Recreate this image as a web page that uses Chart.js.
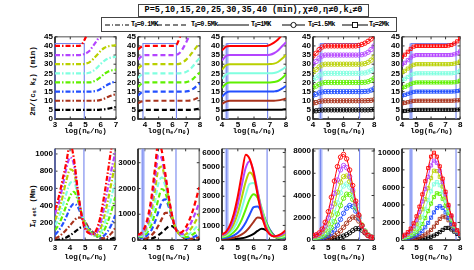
<!DOCTYPE html>
<html>
<head>
<meta charset="utf-8">
<script src="https://cdn.jsdelivr.net/npm/chart.js@4.4.1/dist/chart.umd.min.js"></script>
<style>
body{margin:0;width:474px;height:270px;background:#fff;position:relative;overflow:hidden}
.pan{position:absolute}
.box{position:absolute;box-sizing:border-box;border:1px solid #444;background:#fff;font-family:'Liberation Mono',monospace;font-weight:bold;color:#000;white-space:nowrap}
.box sub{font-size:70%;vertical-align:-1px;line-height:0}
.leg{position:absolute;top:0;height:13px;line-height:13px;font-size:6.8px;letter-spacing:-0.6px}
.yt{position:absolute;transform:translate(-50%,-50%) rotate(-90deg);white-space:nowrap;font:bold 7.5px 'Liberation Mono',monospace;color:#000}
.xt{position:absolute;transform:translate(-50%,-50%);white-space:nowrap;font:bold 7.5px 'Liberation Mono',monospace;color:#000}
.yt sub,.xt sub{font-size:70%;vertical-align:-1px;line-height:0}
</style>
</head>
<body>
<div class="box" style="left:138px;top:4px;width:231px;height:13px;font-size:8.5px;line-height:11px;text-align:center">P=5,10,15,20,25,30,35,40 (min),χ≠0,η≠0,k<sub>⊥</sub>≠0</div>
<div class="box" id="legend" style="left:101px;top:17px;width:296px;height:15px">
  <svg style="position:absolute;left:3px;top:6px" width="24" height="2"><line x1="0" y1="1" x2="24" y2="1" stroke="#000" stroke-width="1" stroke-dasharray="5,2,1,2"/></svg>
  <div class="leg" style="left:29px">T<sub>0</sub>=0.1MK</div>
  <svg style="position:absolute;left:55px;top:6px" width="31" height="2"><line x1="0" y1="1" x2="31" y2="1" stroke="#000" stroke-width="1" stroke-dasharray="5,3"/></svg>
  <div class="leg" style="left:89px">T<sub>0</sub>=0.5Mk</div>
  <svg style="position:absolute;left:116px;top:6px" width="31" height="2"><line x1="0" y1="1" x2="31" y2="1" stroke="#000" stroke-width="1"/></svg>
  <div class="leg" style="left:149px">T<sub>0</sub>=1MK</div>
  <svg style="position:absolute;left:180px;top:3px" width="23" height="8"><line x1="0" y1="4" x2="23" y2="4" stroke="#000" stroke-width="1"/><circle cx="11.5" cy="4" r="2.6" fill="#fff" stroke="#000" stroke-width="0.9"/></svg>
  <div class="leg" style="left:206px">T<sub>0</sub>=1.5Mk</div>
  <svg style="position:absolute;left:240px;top:3px" width="26" height="8"><line x1="0" y1="4" x2="26" y2="4" stroke="#000" stroke-width="1"/><rect x="10.5" y="1.5" width="5" height="5" fill="#fff" stroke="#000" stroke-width="0.9"/></svg>
  <div class="leg" style="left:267px">T<sub>0</sub>=2Mk</div>
</div>
<div class="yt" style="left:33px;top:81px">2π/(c<sub>s</sub> k<sub>z</sub>) (min)</div>
<div class="yt" style="left:33px;top:206px">I<sub>d est</sub> (Mm)</div>
<script>
// periods P = 5..40 min, one colour each
const periods = [5, 10, 15, 20, 25, 30, 35, 40];
const colors = ['#000000', '#a8321c', '#2350ff', '#5ff000', '#80ffe0', '#b9d000', '#b444ff', '#ff0000'];

// log(ne/n0) grids
const xA = [3, 3.25, 3.5, 3.75, 4, 4.25, 4.5, 4.75, 5, 5.25, 5.5, 5.75, 6, 6.25, 6.5, 6.75, 7];
const xB = [3.5, 3.75, 4, 4.25, 4.5, 4.75, 5, 5.25, 5.5, 5.75, 6, 6.25, 6.5, 6.75, 7, 7.25, 7.5, 7.75, 8];
const xC = [4, 4.25, 4.5, 4.75, 5, 5.25, 5.5, 5.75, 6, 6.25, 6.5, 6.75, 7, 7.25, 7.5, 7.75, 8];
const xD = [4, 4.2, 4.4, 4.6, 4.8, 5, 5.2, 5.4, 5.6, 5.8, 6, 6.2, 6.4, 6.6, 6.8, 7, 7.2, 7.4, 7.6, 7.8, 8];

// tick labels
const xTicksA = [3, 4, 5, 6, 7];
const xTicksB = [4, 5, 6, 7, 8];
const perTicks = [0, 5, 10, 15, 20, 25, 30, 35, 40, 45];
const lenTicks = [
  [0, 200, 400, 600, 800, 1000],
  [0, 1000, 2000, 3000],
  [0, 1000, 2000, 3000, 4000, 5000, 6000],
  [0, 2000, 4000, 6000, 8000],
  [0, 2000, 4000, 6000, 8000, 10000]
];

// top row: 2pi/(cs kz) in min, T0 = 0.1, 0.5, 1, 1.5, 2 MK
const perA = [
  [5,5,5,5,5,5,5,5,5,5,5,5,5.1,5.3,5.7,6.1,6.5],
  [10,10,10,10,10,10,10,10,10,10,10,10.1,10.5,11.2,12.2,13,13.6],
  [15,15,15,15,15,15,15,15,15,15,15.1,15.5,16.5,17.7,19,20,20.5],
  [20,20,20,20,20,20,20,20,20,20,20.5,21.5,23,24.8,26,26.7,27],
  [25,25,25,25,25,25,25,25,25,25.3,26.3,28,30.2,32,33.2,33.8,34.1],
  [30,30,30,30,30,30,30,30,30.3,31,32.8,35,37.3,39,39.8,40.2,40.4],
  [35,35,35,35,35,35,35,35.2,35.8,37.2,40,43,46.5,50,54,58,62],
  [40,40,40,40,40,40,40,40.8,44.5,50,56,62,68,74,80,86,92]
];
const perB = [
  [4.3,4.8,5,5,5,5,5,5,5,5,5,5,5,5,5,5,5.1,5.4,6],
  [8.6,9.6,10,10,10,10,10,10,10,10,10,10,10,10,10,10.1,10.5,11.3,12.5],
  [12.8,14.5,15,15,15,15,15,15,15,15,15,15,15,15,15.1,15.5,16.5,18,19.5],
  [17.5,19.4,20,20,20,20,20,20,20,20,20,20,20,20,20.2,20.8,22,23.8,25.5],
  [22.5,24.3,25,25,25,25,25,25,25,25,25,25,25,25.2,25.8,27,29,31.5,33.5],
  [27.5,29.3,30,30,30,30,30,30,30,30,30,30,30.2,31,32.5,34.5,37,39.5,41.5],
  [32.5,34.3,35,35,35,35,35,35,35,35,35,35.1,36,38.5,42,46,50,54,58],
  [38,39.6,40,40,40,40,40,40,40,40,40,40.3,44,50,57,64,71,78,85]
];
const perC = [
  [4.3,4.8,5,5,5,5,5,5,5,5,5,5,5,5,5,5.1,5.4],
  [8.3,9.5,10,10,10,10,10,10,10,10,10,10,10,10,10.2,10.6,11.2],
  [12.2,14.3,15,15,15,15,15,15,15,15,15,15,15,15.1,15.5,16.6,18.2],
  [17,19.3,20,20,20,20,20,20,20,20,20,20,20,20.2,20.8,22.3,24.5],
  [22,24.3,25,25,25,25,25,25,25,25,25,25,25,25.2,25.8,27,28.6],
  [27,29.4,30,30,30,30,30,30,30,30,30,30,30.1,30.3,31.2,33,35],
  [32,34.5,35,35,35,35,35,35,35,35,35,35,35.2,36,37.5,39.8,42],
  [37.5,39.6,40,40,40,40,40,40,40,40,40,40,40.6,41.8,43.5,46,49]
];
const perD = [
  [4.3,4.5,4.75,4.93,5,5,5,5,5,5,5,5,5,5,5,5,5,5,5,5.1,5.3],
  [8.6,9,9.5,9.85,10,10,10,10,10,10,10,10,10,10,10,10,10,10,10.1,10.2,10.5],
  [12.9,13.5,14.3,14.8,15,15,15,15,15,15,15,15,15,15,15,15,15,15.1,15.2,15.8,16.6],
  [17.2,18,19,19.7,20,20,20,20,20,20,20,20,20,20,20,20,20,20.1,20.4,21.2,22.3],
  [21.5,22.5,23.8,24.6,25,25,25,25,25,25,25,25,25,25,25,25,25.1,25.2,25.7,26.5,27.5],
  [25.8,27,28.5,29.6,30,30,30,30,30,30,30,30,30,30,30,30,30.1,30.3,31,32.2,33.8],
  [30,31.5,33.3,34.5,35,35,35,35,35,35,35,35,35,35,35,35,35.2,35.6,36.5,38,40],
  [34.5,36,38,39.4,40,40,40,40,40,40,40,40,40,40,40,40.3,40.8,41.5,42.5,43.8,45.5]
];
const perE = [
  [4.25,4.4,4.6,4.8,4.95,5,5,5,5,5,5,5,5,5,5,5,5,5,5,5.1,5.2],
  [8.5,8.8,9.2,9.6,9.9,10,10,10,10,10,10,10,10,10,10,10,10,10,10.1,10.2,10.3],
  [12.8,13.2,13.8,14.4,14.85,15,15,15,15,15,15,15,15,15,15,15,15,15,15.1,15.3,15.6],
  [17,17.6,18.4,19.2,19.8,20,20,20,20,20,20,20,20,20,20,20,20,20,20.1,20.4,21],
  [21.3,22,23,24,24.75,25,25,25,25,25,25,25,25,25,25,25,25,25,25.2,25.6,26.5],
  [25.5,26.4,27.6,28.8,29.7,30,30,30,30,30,30,30,30,30,30,30,30,30.1,30.3,30.8,31.5],
  [29.8,30.8,32.2,33.6,34.65,35,35,35,35,35,35,35,35,35,35,35,35,35.1,35.4,36,37],
  [34,35.2,36.8,38.4,39.6,40,40,40,40,40,40,40,40,40,40,40,40.2,40.5,41.3,42.5,44]
];

// bottom row: estimated damping length in Mm
const lenA = [
  [0,5,15,30,55,85,120,150,160,130,90,50,25,10,8,15,30],
  [15,40,75,120,170,220,260,260,210,140,90,50,25,20,40,80,140],
  [60,110,180,270,370,420,390,290,200,130,80,45,30,50,100,180,290],
  [115,180,280,400,510,560,470,320,190,120,70,40,50,110,210,340,500],
  [170,260,390,540,660,680,520,320,180,110,65,45,80,170,320,500,700],
  [230,340,500,690,820,790,560,310,165,100,60,55,120,260,450,670,900],
  [300,430,620,830,960,880,580,300,150,90,60,80,180,370,600,820,1020],
  [350,500,700,900,1120,950,600,300,130,80,70,120,260,500,780,1080,1300]
];
const lenB = [
  [250,60,20,30,60,110,190,290,410,520,540,430,270,140,60,25,15,20,35],
  [200,60,50,100,190,340,560,820,1050,1050,820,500,270,130,60,40,50,70,110],
  [150,80,120,220,400,700,1100,1480,1580,1300,880,500,260,130,80,80,110,160,230],
  [160,120,190,350,620,1050,1600,1980,1850,1400,900,480,250,140,110,140,210,300,420],
  [170,160,260,490,880,1500,2200,2430,2100,1500,920,480,240,150,150,230,340,480,650],
  [180,200,340,640,1150,1950,2750,2850,2300,1600,950,470,240,180,220,350,520,750,1000],
  [190,240,420,800,1450,2400,3300,3150,2450,1650,950,450,250,230,330,520,780,1100,1450],
  [200,280,500,950,1700,2800,3800,3450,2600,1700,950,450,280,320,480,750,1100,1550,2050]
];
const lenC = [
  [30,35,45,60,85,120,180,280,420,620,770,700,500,280,130,60,40],
  [80,95,120,170,250,380,580,880,1250,1540,1480,1150,720,370,170,90,80],
  [130,160,220,320,500,780,1200,1750,2250,2300,1950,1350,750,350,160,110,130],
  [180,230,340,540,880,1400,2100,2800,3130,2900,2200,1350,680,300,160,150,210],
  [230,310,480,800,1350,2150,3100,3850,3900,3250,2200,1200,560,260,180,200,300],
  [280,390,640,1100,1850,2900,4000,4620,4300,3300,2050,1050,480,250,200,270,400],
  [330,470,800,1450,2450,3750,4950,5400,4700,3350,1950,950,430,250,250,350,520],
  [380,560,1000,1800,3000,4500,5850,5550,4600,3100,1750,850,400,260,300,430,650]
];
const lenD = [
  [60,60,60,65,70,80,100,130,180,250,350,480,650,850,1020,1030,880,640,420,280,220],
  [100,105,110,130,160,210,290,410,590,830,1140,1500,1850,2060,2000,1700,1250,800,470,280,200],
  [140,150,170,210,290,420,620,920,1330,1850,2400,2850,3100,3000,2600,1950,1300,800,460,270,190],
  [190,210,250,330,470,720,1100,1650,2350,3100,3750,4120,4080,3650,2900,2080,1350,800,460,270,200],
  [240,270,330,450,680,1050,1650,2450,3350,4250,4850,5030,4750,4050,3100,2150,1350,800,450,270,200],
  [290,330,420,600,920,1450,2250,3250,4300,5200,5700,5750,5250,4350,3250,2200,1350,780,430,260,200],
  [340,400,520,780,1250,1980,3000,4200,5400,6300,6700,6500,5700,4500,3250,2150,1300,720,400,250,200],
  [400,470,640,980,1600,2550,3850,5300,6600,7450,7700,7300,6300,4900,3500,2250,1300,700,400,250,200]
];
const lenE = [
  [60,60,65,70,80,95,120,150,200,270,370,500,680,900,1150,1370,1380,1200,950,700,480],
  [100,110,130,160,200,260,340,460,630,850,1150,1520,1950,2400,2680,2600,2250,1750,1250,850,560],
  [150,180,230,300,400,550,760,1050,1450,1950,2550,3150,3650,3850,3650,3150,2500,1850,1300,870,580],
  [200,260,350,480,670,950,1320,1830,2500,3300,4150,4900,5330,5250,4700,3900,3050,2250,1550,1000,650],
  [250,340,470,660,950,1350,1900,2650,3550,4550,5550,6350,6600,6250,5450,4450,3400,2450,1650,1050,680],
  [300,420,600,860,1250,1800,2550,3500,4650,5900,7050,7900,7850,7200,6100,4850,3650,2600,1700,1100,700],
  [350,500,720,1050,1550,2250,3200,4400,5800,7200,8500,9050,8800,7900,6600,5200,3850,2700,1750,1100,700],
  [400,600,900,1300,1900,2700,3800,5200,6700,8200,9500,9950,9500,8400,7000,5500,4000,2800,1800,1100,700]
];

// shaded windows (log ne/n0) per column
const windows = [[3, 4.92], [3.86, 6.29], [4.3, 6.85], [4.5, 7.05], [4.62, 7.72]];

const frame = {
  id: 'frame',
  beforeDatasetsDraw(chart, args, o) {
    const {ctx, chartArea: a, scales: {x, y}} = chart;
    ctx.save();
    // axes box
    ctx.lineWidth = 1.6;
    ctx.strokeStyle = '#8a8a8a';
    ctx.beginPath();
    ctx.moveTo(a.left, a.top); ctx.lineTo(a.right, a.top); ctx.lineTo(a.right, a.bottom);
    ctx.stroke();
    ctx.strokeStyle = '#111';
    ctx.beginPath();
    ctx.moveTo(a.left, a.top); ctx.lineTo(a.left, a.bottom); ctx.lineTo(a.right, a.bottom);
    ctx.stroke();
    ctx.lineWidth = 1;
    ctx.strokeStyle = '#333';
    ctx.beginPath();
    x.ticks.forEach(t => {
      const p = x.getPixelForValue(t.value);
      ctx.moveTo(p, a.bottom); ctx.lineTo(p, a.bottom - 2.5);
      ctx.moveTo(p, a.top); ctx.lineTo(p, a.top + 2.5);
    });
    y.ticks.forEach(t => {
      const p = y.getPixelForValue(t.value);
      ctx.moveTo(a.left, p); ctx.lineTo(a.left + 2.5, p);
      ctx.moveTo(a.right, p); ctx.lineTo(a.right - 2.5, p);
    });
    ctx.stroke();
    // density window
    const b0 = x.getPixelForValue(o.band[0]);
    const b1 = x.getPixelForValue(o.band[1]);
    const top = o.bandTop != null ? y.getPixelForValue(o.bandTop) : a.top;
    if (o.wide) {
      ctx.fillStyle = 'rgba(160,175,250,0.65)';
      ctx.fillRect(b0 - 2, top, 4, a.bottom - top);
    }
    ctx.strokeStyle = '#7585ee';
    ctx.lineWidth = 1.1;
    ctx.beginPath();
    ctx.moveTo(b0, a.bottom); ctx.lineTo(b0, top);
    if (o.bandTop != null) ctx.lineTo(b1, top); else ctx.moveTo(b1, top);
    ctx.lineTo(b1, a.bottom);
    ctx.stroke();
    ctx.restore();
  }
};

const styles = {
  dashdot: {borderWidth: 2.2, borderDash: [5, 2, 1.5, 2], pointRadius: 0},
  dash: {borderWidth: 2.2, borderDash: [5, 3], pointRadius: 0},
  solid: {borderWidth: 2, pointRadius: 0},
  circle: {borderWidth: 1, pointStyle: 'circle', pointRadius: 2.2, pointBorderWidth: 0.9},
  rect: {borderWidth: 1, pointStyle: 'rect', pointRadius: 2.2, pointBorderWidth: 0.9}
};

const cols = [
  {left: 55, right: 116, xmin: 3, xmax: 7, xs: xA, xt: xTicksA, style: 'dashdot', per: perA, len: lenA, lmax: 1060},
  {left: 138, right: 200, xmin: 3.5, xmax: 8, xs: xB, xt: xTicksB, style: 'dash', per: perB, len: lenB, lmax: 3540},
  {left: 222, right: 286, xmin: 4, xmax: 8, xs: xC, xt: xTicksB, style: 'solid', per: perC, len: lenC, lmax: 6250},
  {left: 313, right: 375, xmin: 4, xmax: 8, xs: xD, xt: xTicksB, style: 'circle', per: perD, len: lenD, lmax: 8200},
  {left: 402, right: 461, xmin: 4, xmax: 8, xs: xD, xt: xTicksB, style: 'rect', per: perE, len: lenE, lmax: 10400}
];
const rowsGeo = [{top: 36, bottom: 119, xH: 10, tpad: 0.5, title: 131}, {top: 148, bottom: 240, xH: 12, tpad: 2.5, title: 256.5}];

function makePanel(c, ci, r) {
  const g = rowsGeo[r];
  const yW = ci === 0 ? 35 : 30, padTop = 6, padRight = 4;
  const W = c.right - c.left + yW + padRight;
  const H = g.bottom - g.top + padTop + g.xH;
  const wrap = document.createElement('div');
  wrap.className = 'pan';
  wrap.style.left = (c.left - yW) + 'px';
  wrap.style.top = (g.top - padTop) + 'px';
  const cv = document.createElement('canvas');
  cv.width = W; cv.height = H;
  cv.style.width = W + 'px'; cv.style.height = H + 'px';
  wrap.appendChild(cv);
  document.body.appendChild(wrap);

  const xt = document.createElement('div');
  xt.className = 'xt';
  xt.style.left = ((c.left + c.right) / 2) + 'px';
  xt.style.top = g.title + 'px';
  xt.innerHTML = 'log(n<sub>e</sub>/n<sub>0</sub>)';
  document.body.appendChild(xt);

  const rows = r === 0 ? c.per : c.len;
  const yTicks = r === 0 ? perTicks : lenTicks[ci];
  const st = styles[c.style];
  const datasets = rows.map((vals, i) => Object.assign({
    label: 'P=' + periods[i],
    data: c.xs.map((x, j) => ({x: x, y: vals[j]})),
    borderColor: colors[i],
    pointBorderColor: colors[i],
    pointBackgroundColor: 'rgba(255,255,255,0)',
    cubicInterpolationMode: 'monotone',
    fill: false,
    order: 7 - i
  }, st));

  const tickFont = {family: 'Liberation Sans', weight: 'bold', size: 8};
  new Chart(cv, {
    type: 'line',
    data: {datasets: datasets},
    options: {
      responsive: false,
      animation: false,
      events: [],
      layout: {padding: {top: padTop, right: padRight, left: 0, bottom: 0}},
      plugins: {
        legend: {display: false},
        tooltip: {enabled: false},
        frame: {band: windows[ci], bandTop: r === 0 ? 41.3 : null, wide: ci > 0 && !(r === 0 && ci === 1)}
      },
      scales: {
        x: {
          type: 'linear', min: c.xmin, max: c.xmax,
          grid: {display: false, drawTicks: false}, border: {display: false},
          afterBuildTicks: s => { s.ticks = c.xt.map(v => ({value: v})); },
          ticks: {autoSkip: false, font: tickFont, color: '#000', padding: g.tpad, maxRotation: 0, callback: v => String(v)},
          afterFit: s => { s.height = g.xH; }
        },
        y: {
          min: 0, max: r === 0 ? 45 : c.lmax,
          grid: {display: false, drawTicks: false}, border: {display: false},
          afterBuildTicks: s => { s.ticks = yTicks.map(v => ({value: v})); },
          ticks: {autoSkip: false, font: tickFont, color: '#000', padding: 2, callback: v => String(v)},
          afterFit: s => { s.width = yW; }
        }
      }
    },
    plugins: [frame]
  });
}

cols.forEach((c, ci) => { makePanel(c, ci, 0); makePanel(c, ci, 1); });
</script>
</body>
</html>
